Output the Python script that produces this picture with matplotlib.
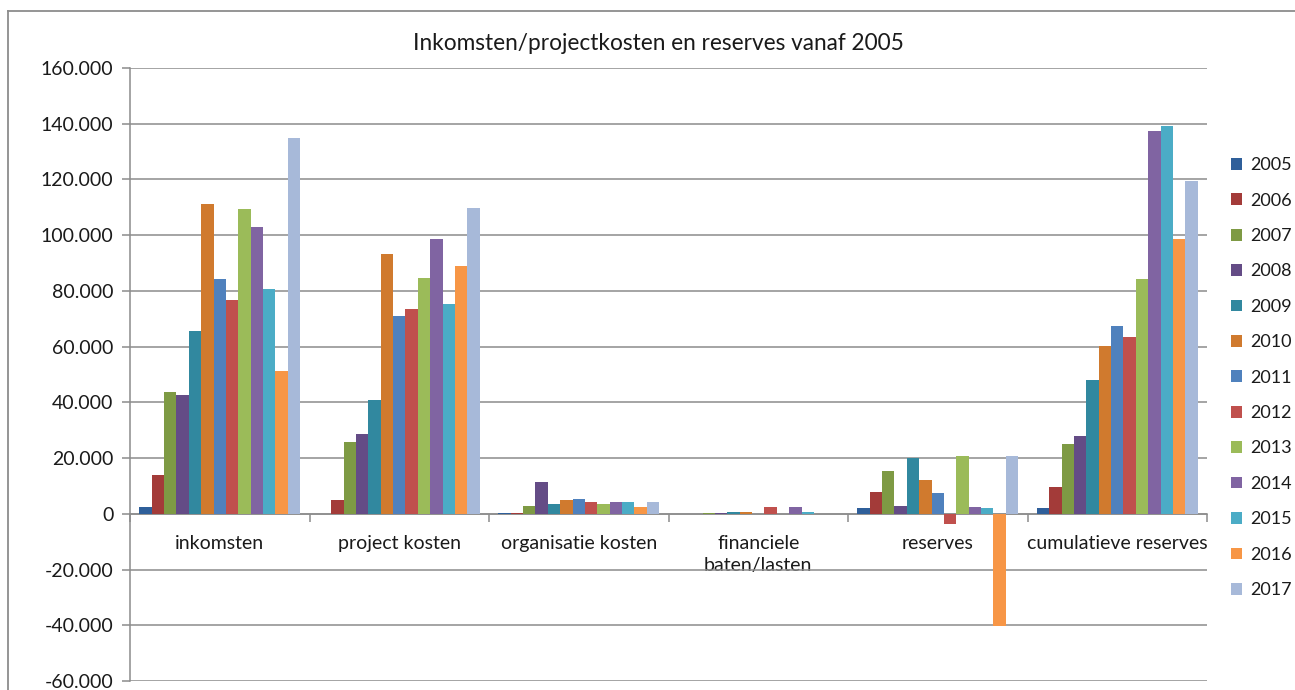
import matplotlib.pyplot as plt
from matplotlib.lines import Line2D
from matplotlib.ticker import FuncFormatter
import numpy as np

plt.rcParams['font.family'] = ['Lato', 'DejaVu Sans']

# Categories and years
categories = ["inkomsten", "project kosten", "organisatie kosten",
              "financiele\nbaten/lasten", "reserves", "cumulatieve reserves"]
years = ["2005", "2006", "2007", "2008", "2009", "2010", "2011",
         "2012", "2013", "2014", "2015", "2016", "2017"]

# Values per year, in the category order above (euro)
y2005 = [2400, 0, 300, 0, 2100, 2000]
y2006 = [13800, 5100, 400, 0, 7700, 9800]
y2007 = [43700, 25700, 2700, 200, 15200, 25100]
y2008 = [42500, 28500, 11300, 200, 2900, 27900]
y2009 = [65500, 40800, 3600, 500, 20000, 48100]
y2010 = [111100, 93200, 4800, 800, 12000, 60100]
y2011 = [84100, 70900, 5400, 0, 7300, 67300]
y2012 = [76600, 73500, 4100, 2600, -3700, 63500]
y2013 = [109300, 84500, 3700, 0, 20800, 84100]
y2014 = [102800, 98600, 4200, 2600, 2500, 137400]
y2015 = [80700, 75400, 4200, 700, 2000, 139300]
y2016 = [51300, 88900, 2600, 0, -40300, 98700]
y2017 = [135000, 109600, 4400, 0, 20600, 119300]

series = [y2005, y2006, y2007, y2008, y2009, y2010, y2011,
          y2012, y2013, y2014, y2015, y2016, y2017]

colors = ["#2F5F9A", "#A33B39", "#7E9A44", "#644C86", "#31889F", "#D07A2E",
          "#4F81BD", "#C0504D", "#9BBB59", "#8064A2", "#4BACC6", "#F79646",
          "#A7B9D9"]

fig = plt.figure(figsize=(12.95, 6.9), dpi=100)
ax = fig.add_axes([130 / 1295, 1 - 681 / 690, (1207 - 130) / 1295, (681 - 68) / 690])

# outer chart frame (left and top edges visible)
fig.add_artist(Line2D([8 / 1295, 8 / 1295], [0, 1 - 11 / 690], color="#8c8c8c", lw=1.3))
fig.add_artist(Line2D([8 / 1295, 1], [1 - 11 / 690, 1 - 11 / 690], color="#8c8c8c", lw=1.3))

n = len(series)
width = 1 / (n + 1.5)
x = np.arange(len(categories))
for i, vals in enumerate(series):
    offs = (i - (n - 1) / 2) * width
    ax.bar(x + offs, vals, width=width, color=colors[i], label=years[i], zorder=3)

ax.set_xlim(-0.5, len(categories) - 0.5)
ax.set_ylim(-60000, 160000)
ax.set_yticks(np.arange(-60000, 160001, 20000))
ax.yaxis.set_major_formatter(FuncFormatter(lambda v, p: "0" if v == 0 else f"{v:,.0f}".replace(",", ".")))
ax.grid(axis="y", color="#8c8c8c", lw=1.1, zorder=0)
ax.tick_params(axis="y", labelsize=14, length=6, color="#8c8c8c", width=1.1, pad=6,
               labelcolor="#1a1a1a")

ax.spines["bottom"].set_position(("data", 0))
for s in ["top", "right"]:
    ax.spines[s].set_visible(False)
ax.spines["bottom"].set_color("#8c8c8c")
ax.spines["left"].set_color("#8c8c8c")
ax.spines["bottom"].set_linewidth(1.1)
ax.spines["left"].set_linewidth(1.1)

ax.set_xticks(x)
ax.set_xticklabels(categories, fontsize=14, linespacing=1.4, va="top", color="#1a1a1a")
ax.tick_params(axis="x", length=0, pad=15)
ax.set_xticks(np.arange(-0.5, len(categories)), minor=True)
ax.tick_params(axis="x", which="minor", length=6, color="#8c8c8c", width=1.1)

fig.text(658 / 1295, 1 - 44 / 690, "Inkomsten/projectkosten en reserves vanaf 2005",
         fontsize=16.3, ha="center", va="center", color="#1a1a1a")

fig.legend(loc="upper left", bbox_to_anchor=(1224 / 1295, 1 - 150 / 690), frameon=False,
           fontsize=13, handlelength=0.62, handleheight=0.62, handletextpad=0.45,
           labelspacing=1.075, borderaxespad=0, labelcolor="#1a1a1a")

fig.savefig("out.png", dpi=100)
